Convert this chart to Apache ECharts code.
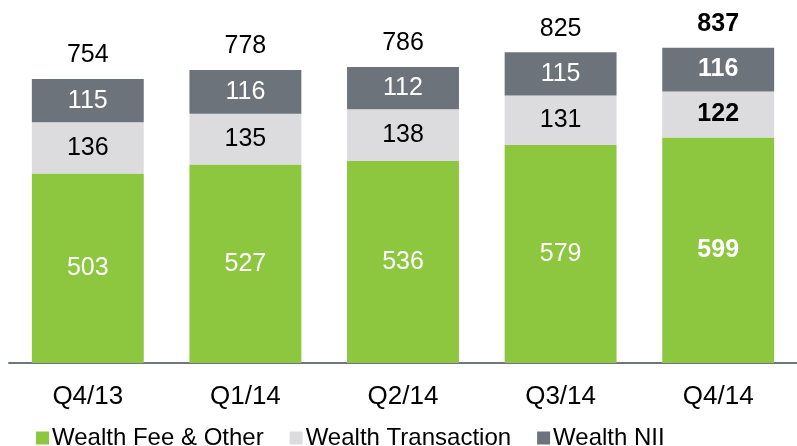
<!DOCTYPE html>
<html>
<head>
<meta charset="utf-8">
<script src="https://cdn.jsdelivr.net/npm/echarts@6/dist/echarts.min.js"></script>
<style>
  html, body { margin: 0; padding: 0; background: #fff; }
  #chart { width: 797px; height: 446px; }
</style>
</head>
<body>
<div id="chart"></div>
<script>
const quarters = ['Q4/13', 'Q1/14', 'Q2/14', 'Q3/14', 'Q4/14']
const feeOther = [503, 527, 536, 579, 599]
const transaction = [136, 135, 138, 131, 122]
const nii = [115, 116, 112, 115, 116]
const totals = [754, 778, 786, 825, 837]

const FONT = '"Liberation Sans", Arial, sans-serif'
const last = quarters.length - 1

// last quarter is printed in bold
function withBold(values) {
  return values.map((v, i) => i === last ? { value: v, label: { fontWeight: 'bold' } } : v)
}

function segment(name, values, color, textColor) {
  return {
    name: name,
    type: 'bar',
    stack: 'wealth',
    barCategoryGap: '29%',
    itemStyle: { color: color },
    label: {
      show: true,
      position: 'inside',
      color: textColor,
      fontSize: 25,
      fontFamily: FONT
    },
    data: withBold(values)
  }
}

const chart = echarts.init(document.getElementById('chart'))
chart.setOption({
  animation: false,
  grid: { left: 9, right: -5, top: 24, bottom: 83 },
  legend: {
    left: 31,
    top: 421,
    itemWidth: 13,
    itemHeight: 13,
    itemGap: 26,
    icon: 'rect',
    data: ['Wealth Fee & Other', 'Wealth Transaction', 'Wealth NII'],
    textStyle: { fontSize: 24, color: '#000', fontFamily: FONT, padding: [0, 0, 0, -2] }
  },
  xAxis: {
    type: 'category',
    data: quarters,
    axisLine: { lineStyle: { color: '#6d7580', width: 2 } },
    axisTick: { show: false },
    axisLabel: { color: '#000', fontSize: 26, fontFamily: FONT, margin: 21 }
  },
  yAxis: {
    type: 'value',
    min: 0,
    max: 900,
    show: false
  },
  series: [
    segment('Wealth Fee & Other', feeOther, '#8dc63f', '#fff'),
    segment('Wealth Transaction', transaction, '#dcdcde', '#000'),
    segment('Wealth NII', nii, '#6d737b', '#fff'),
    {
      name: 'Total',
      type: 'bar',
      stack: 'wealth',
      itemStyle: { color: 'transparent' },
      label: {
        show: true,
        position: 'top',
        distance: 11,
        color: '#000',
        fontSize: 25,
        fontFamily: FONT,
        formatter: (p) => totals[p.dataIndex]
      },
      data: quarters.map((q, i) => i === last ? { value: 0, label: { fontWeight: 'bold' } } : 0)
    }
  ]
})
</script>
</body>
</html>
